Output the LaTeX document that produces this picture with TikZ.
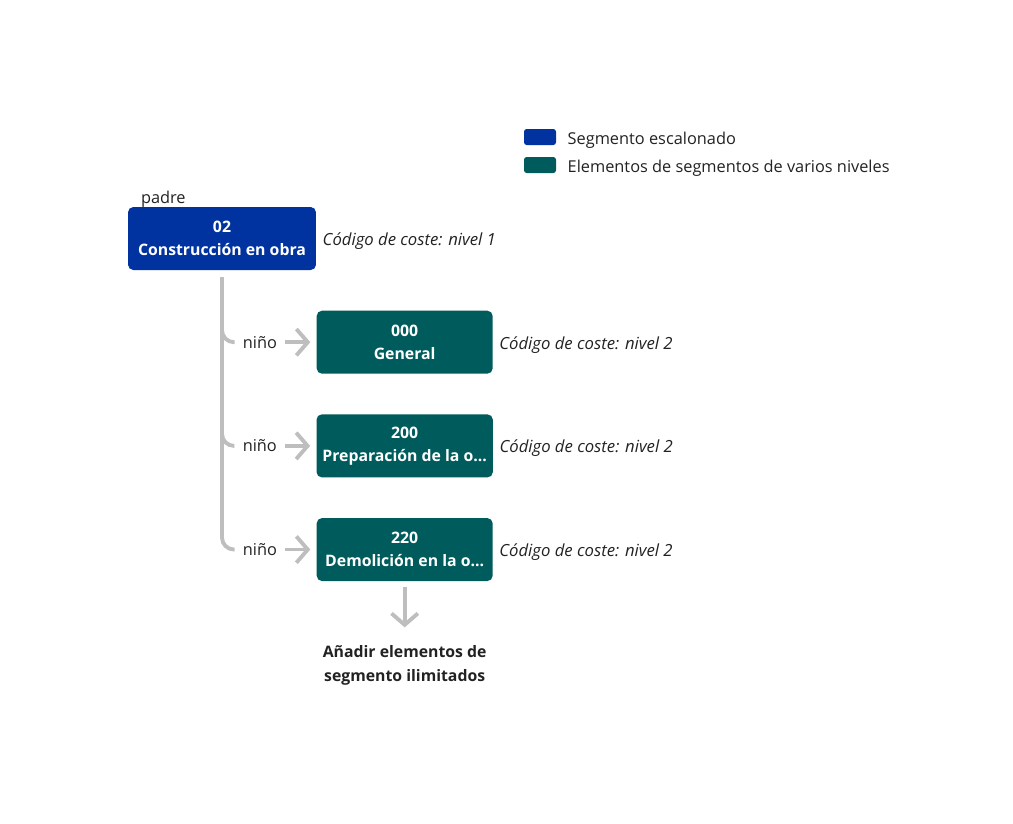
\documentclass[tikz,border=0pt]{standalone}
\usepackage{fontspec}
\setmainfont{Open Sans}
\usetikzlibrary{positioning}
\usetikzlibrary{arrows.meta}

\definecolor{segblue}{RGB}{0,51,160}
\definecolor{seggreen}{RGB}{0,92,92}
\definecolor{linegray}{RGB}{190,190,190}
\definecolor{textdark}{RGB}{34,34,34}

\begin{document}
\begin{tikzpicture}[x=0.02cm, y=-0.02cm,
    every node/.style={font=\fontsize{9.3pt}{13pt}\selectfont, text=textdark},
    parentbox/.style={fill=segblue, rounded corners=3pt, minimum width=3.76cm,
        minimum height=1.26cm, align=center, text=white,
        font=\fontsize{9pt}{13pt}\selectfont\bfseries},
    childbox/.style={parentbox, fill=seggreen, minimum width=3.52cm},
    costlabel/.style={inner sep=0pt, yshift=-.05cm,
        font=\fontsize{9.5pt}{13pt}\selectfont\itshape},
    keybox/.style={rounded corners=1.5pt, minimum width=0.64cm, minimum height=0.32cm,
        inner sep=0pt},
    treeline/.style={draw=linegray, line width=2.2pt, rounded corners=0.24cm},
    arr/.style={draw=linegray, line width=2.2pt,
        -{Straight Barb[length=6.5pt, width=15pt, line width=2.2pt]}}]

        \useasboundingbox (0,0) rectangle (1013,823);

        \def\d{.8cm}
        \def\g{.12cm}

        % legend
        \node (key1) [keybox, fill=segblue] at (540,137) {};
        \node (key2) [keybox, fill=seggreen] at (540,165) {};
        \node (keyt1) [right=.22cm of key1, yshift=-.06cm, inner sep=0pt]
        {Segmento escalonado};
        \node (keyt2) [right=.22cm of key2, yshift=-.06cm, inner sep=0pt]
        {Elementos de segmentos de varios niveles};

        % boxes
        \node (P) [parentbox] at (222,238.5) {02\\Construcción en obra};
        \node (padre) [above right=-.02cm and .26cm of P.north west, inner sep=0pt]
        {padre};
        \node (C1) [childbox, below right=\d and 0cm of P] {000\\General};
        \node (C2) [childbox, below=\d of C1] {200\\Preparación de la o...};
        \node (C3) [childbox, below=\d of C2] {220\\Demolición en la o...};

        \node (L0) [costlabel, right=\g of P] {Código de coste: nivel 1};
        \foreach \x in {1,2,3}
        \node (L\x) [costlabel, right=\g of C\x] {Código de coste: nivel 2};

        \foreach \x in {1,2,3}
        \node (N\x) [inner sep=0pt, left=.78cm of C\x] {niño};

        \node (add) [below=1.28cm of C3, inner sep=0pt, align=center,
            font=\fontsize{9pt}{13.5pt}\selectfont\bfseries]
        {Añadir elementos de\\segmento ilimitados};

        % connectors
        \foreach \x in {1,2,3}
        \draw[treeline] ([yshift=-.14cm]P.south) |- ([xshift=-.16cm]N\x.west);

        \begin{scope}[shorten <=.16cm, shorten >=.12cm]
            \foreach \x in {1,2,3}
            \draw[arr] (N\x) -- (C\x);
        \end{scope}

        \draw[arr, shorten <=.12cm, shorten >=.36cm] (C3) -- (add);

\end{tikzpicture}
\end{document}
